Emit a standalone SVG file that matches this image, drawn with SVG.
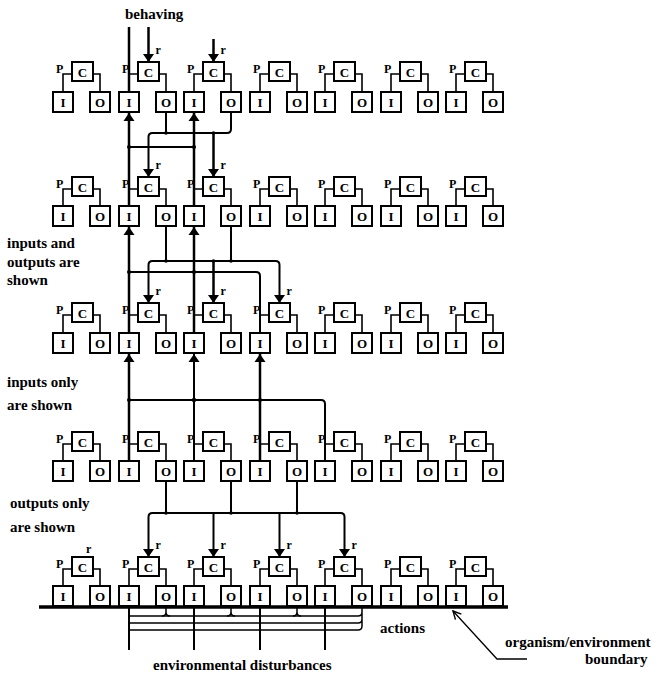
<svg xmlns="http://www.w3.org/2000/svg" width="657" height="674" viewBox="0 0 657 674">
<style>
.bx{fill:#fff;stroke:#000;stroke-width:2}
.t{font-family:"Liberation Serif",serif;font-weight:bold;font-size:13px;text-anchor:middle}
.p{font-family:"Liberation Serif",serif;font-weight:bold;font-size:12px}
.r{font-family:"Liberation Serif",serif;font-weight:bold;font-size:12px}
.lab{font-family:"Liberation Serif",serif;font-weight:bold;font-size:15px}
.w{fill:none;stroke:#000;stroke-width:1.6}
.k{fill:none;stroke:#000;stroke-width:2.5}
.m{fill:none;stroke:#000;stroke-width:2}
.n{fill:none;stroke:#000;stroke-width:1.5}
.d{fill:#000}
</style>
<defs>
<marker id="ah" markerUnits="userSpaceOnUse" markerWidth="9" markerHeight="12" refX="8" refY="6" orient="auto"><path d="M0,0.5 L8,6 L0,11.5 z" fill="#000"/></marker>
<marker id="oa" markerUnits="userSpaceOnUse" markerWidth="10" markerHeight="10" refX="9" refY="5" orient="auto"><path d="M1,1 L9,5 L1,9" fill="none" stroke="#000" stroke-width="1.4"/></marker>
</defs>
<rect width="657" height="674" fill="#fff"/>

<g id="connectors">
<!-- top -->
<path class="k" d="M129,27V92"/>
<path class="k" d="M148.5,27V62" marker-end="url(#ah)"/>
<path class="k" d="M213.5,39V62" marker-end="url(#ah)"/>
<!-- row1-row2 -->
<path class="k" d="M129,206V113" marker-end="url(#ah)"/>
<path class="k" d="M194,206V113" marker-end="url(#ah)"/>
<path class="m" d="M129,147H194"/>
<circle class="d" cx="129" cy="147" r="2"/><circle class="d" cx="194" cy="147" r="2"/>
<path class="m" d="M166,112V133"/>
<path class="m" d="M231,112V129Q231,133 227,133H152.5Q148.5,133 148.5,137V177" marker-end="url(#ah)"/>
<path class="k" d="M213.5,133V177" marker-end="url(#ah)"/>
<circle class="d" cx="166" cy="133" r="1.8"/><circle class="d" cx="213.5" cy="133" r="1.8"/>
<!-- row2-row3 -->
<path class="k" d="M129,333V227" marker-end="url(#ah)"/>
<path class="k" d="M194,333V227" marker-end="url(#ah)"/>
<path class="m" d="M260,333V276Q260,272 256,272H129"/>
<circle class="d" cx="129" cy="272" r="2"/><circle class="d" cx="194" cy="272" r="2"/>
<path class="m" d="M166,226V261"/>
<path class="m" d="M231,226V261"/>
<path class="m" d="M166,261H152.5Q148.5,261 148.5,265V303" marker-end="url(#ah)"/>
<path class="m" d="M166,261H275.5Q279.5,261 279.5,265V303" marker-end="url(#ah)"/>
<path class="k" d="M213.5,261V303" marker-end="url(#ah)"/>
<circle class="d" cx="166" cy="261" r="1.8"/><circle class="d" cx="231" cy="261" r="1.8"/><circle class="d" cx="213.5" cy="261" r="1.8"/>
<!-- row3-row4 -->
<path class="k" d="M129,461V354" marker-end="url(#ah)"/>
<path class="m" d="M194,461V354" marker-end="url(#ah)"/>
<path class="k" d="M260,461V354" marker-end="url(#ah)"/>
<path class="m" d="M325,461V404Q325,400 321,400H129"/>
<circle class="d" cx="129" cy="400" r="2"/><circle class="d" cx="194" cy="400" r="2.2"/><circle class="d" cx="260" cy="400" r="2"/>
<!-- row4-row5 -->
<path class="m" d="M166,481V513"/>
<path class="m" d="M231,481V513"/>
<path class="m" d="M297,481V513"/>
<path class="m" d="M231,513H152.5Q148.5,513 148.5,517V557" marker-end="url(#ah)"/>
<path class="m" d="M231,513H340.5Q344.5,513 344.5,517V557" marker-end="url(#ah)"/>
<path class="m" d="M213.5,513V557" marker-end="url(#ah)"/>
<path class="m" d="M279.5,513V557" marker-end="url(#ah)"/>
<circle class="d" cx="166" cy="513" r="1.8"/><circle class="d" cx="231" cy="513" r="1.8"/><circle class="d" cx="297" cy="513" r="1.8"/>
<!-- boundary and environment -->
<path fill="none" stroke="#000" stroke-width="3.5" d="M39,607H508"/>
<path class="m" d="M129,608V650M194,608V650M260,608V650M325,608V650"/>
<path class="n" d="M166,607V612Q166,616 162,616M166,612Q166,616 170,616M231,607V612Q231,616 227,616M231,612Q231,616 235,616M297,607V612Q297,616 293,616M297,612Q297,616 301,616"/>
<path class="n" d="M129,616H358M129,623H358M129,630H358"/>
<path class="n" d="M362,607V612Q362,616 358,616M362,612V619Q362,623 358,623M362,619V626Q362,630 358,630"/>
<path fill="none" stroke="#000" stroke-width="1.3" d="M527,659H497L453,611" marker-end="url(#oa)"/>
</g>

<g id="labels">
<text class="lab" x="125" y="19">behaving</text>
<text class="lab" x="7" y="248">inputs and</text>
<text class="lab" x="7" y="267">outputs are</text>
<text class="lab" x="7" y="285">shown</text>
<text class="lab" x="7" y="387">inputs only</text>
<text class="lab" x="7" y="410">are shown</text>
<text class="lab" x="10" y="508">outputs only</text>
<text class="lab" x="10" y="532">are shown</text>
<text class="lab" x="380" y="633">actions</text>
<text class="lab" x="153" y="670">environmental disturbances</text>
<text class="lab" x="505" y="647">organism/environment</text>
<text class="lab" x="585" y="664">boundary</text>
<text class="r" x="155.5" y="54">r</text><text class="r" x="220.5" y="54">r</text>
<text class="r" x="155.5" y="169">r</text><text class="r" x="220.5" y="169">r</text>
<text class="r" x="155.5" y="295">r</text><text class="r" x="220.5" y="295">r</text><text class="r" x="286.5" y="295">r</text>
<text class="r" x="86" y="553">r</text><text class="r" x="155.5" y="549">r</text><text class="r" x="220.5" y="549">r</text><text class="r" x="286.5" y="549">r</text><text class="r" x="351.5" y="549">r</text>
</g>

<!-- Row 1 -->
<g id="r1u1"><path class="w" d="M72,74H63V92M93,74H100V92"/><text class="p" x="56" y="73">P</text><g id="r1u1-C"><rect class="bx" x="72" y="62" width="21" height="19"/><text class="t" x="82.5" y="76.5">C</text></g><g id="r1u1-I"><rect class="bx" x="53" y="92" width="20" height="20"/><text class="t" x="63" y="107">I</text></g><g id="r1u1-O"><rect class="bx" x="90" y="92" width="20" height="20"/><text class="t" x="100" y="107">O</text></g></g>
<g id="r1u2"><path class="w" d="M138,74H129V92M159,74H166V92"/><text class="p" x="122" y="73">P</text><g id="r1u2-C"><rect class="bx" x="138" y="62" width="21" height="19"/><text class="t" x="148.5" y="76.5">C</text></g><g id="r1u2-I"><rect class="bx" x="119" y="92" width="20" height="20"/><text class="t" x="129" y="107">I</text></g><g id="r1u2-O"><rect class="bx" x="156" y="92" width="20" height="20"/><text class="t" x="166" y="107">O</text></g></g>
<g id="r1u3"><path class="w" d="M203,74H194V92M224,74H231V92"/><text class="p" x="187" y="73">P</text><g id="r1u3-C"><rect class="bx" x="203" y="62" width="21" height="19"/><text class="t" x="213.5" y="76.5">C</text></g><g id="r1u3-I"><rect class="bx" x="184" y="92" width="20" height="20"/><text class="t" x="194" y="107">I</text></g><g id="r1u3-O"><rect class="bx" x="221" y="92" width="20" height="20"/><text class="t" x="231" y="107">O</text></g></g>
<g id="r1u4"><path class="w" d="M269,74H260V92M290,74H297V92"/><text class="p" x="253" y="73">P</text><g id="r1u4-C"><rect class="bx" x="269" y="62" width="21" height="19"/><text class="t" x="279.5" y="76.5">C</text></g><g id="r1u4-I"><rect class="bx" x="250" y="92" width="20" height="20"/><text class="t" x="260" y="107">I</text></g><g id="r1u4-O"><rect class="bx" x="287" y="92" width="20" height="20"/><text class="t" x="297" y="107">O</text></g></g>
<g id="r1u5"><path class="w" d="M334,74H325V92M355,74H362V92"/><text class="p" x="318" y="73">P</text><g id="r1u5-C"><rect class="bx" x="334" y="62" width="21" height="19"/><text class="t" x="344.5" y="76.5">C</text></g><g id="r1u5-I"><rect class="bx" x="315" y="92" width="20" height="20"/><text class="t" x="325" y="107">I</text></g><g id="r1u5-O"><rect class="bx" x="352" y="92" width="20" height="20"/><text class="t" x="362" y="107">O</text></g></g>
<g id="r1u6"><path class="w" d="M400,74H391V92M421,74H428V92"/><text class="p" x="384" y="73">P</text><g id="r1u6-C"><rect class="bx" x="400" y="62" width="21" height="19"/><text class="t" x="410.5" y="76.5">C</text></g><g id="r1u6-I"><rect class="bx" x="381" y="92" width="20" height="20"/><text class="t" x="391" y="107">I</text></g><g id="r1u6-O"><rect class="bx" x="418" y="92" width="20" height="20"/><text class="t" x="428" y="107">O</text></g></g>
<g id="r1u7"><path class="w" d="M465,74H456V92M486,74H493V92"/><text class="p" x="449" y="73">P</text><g id="r1u7-C"><rect class="bx" x="465" y="62" width="21" height="19"/><text class="t" x="475.5" y="76.5">C</text></g><g id="r1u7-I"><rect class="bx" x="446" y="92" width="20" height="20"/><text class="t" x="456" y="107">I</text></g><g id="r1u7-O"><rect class="bx" x="483" y="92" width="20" height="20"/><text class="t" x="493" y="107">O</text></g></g>

<!-- Row 2 -->
<g id="r2u1"><path class="w" d="M72,189H63V206M93,189H100V206"/><text class="p" x="56" y="188">P</text><g id="r2u1-C"><rect class="bx" x="72" y="177" width="21" height="19"/><text class="t" x="82.5" y="191.5">C</text></g><g id="r2u1-I"><rect class="bx" x="53" y="206" width="20" height="20"/><text class="t" x="63" y="221">I</text></g><g id="r2u1-O"><rect class="bx" x="90" y="206" width="20" height="20"/><text class="t" x="100" y="221">O</text></g></g>
<g id="r2u2"><path class="w" d="M138,189H129V206M159,189H166V206"/><text class="p" x="122" y="188">P</text><g id="r2u2-C"><rect class="bx" x="138" y="177" width="21" height="19"/><text class="t" x="148.5" y="191.5">C</text></g><g id="r2u2-I"><rect class="bx" x="119" y="206" width="20" height="20"/><text class="t" x="129" y="221">I</text></g><g id="r2u2-O"><rect class="bx" x="156" y="206" width="20" height="20"/><text class="t" x="166" y="221">O</text></g></g>
<g id="r2u3"><path class="w" d="M203,189H194V206M224,189H231V206"/><text class="p" x="187" y="188">P</text><g id="r2u3-C"><rect class="bx" x="203" y="177" width="21" height="19"/><text class="t" x="213.5" y="191.5">C</text></g><g id="r2u3-I"><rect class="bx" x="184" y="206" width="20" height="20"/><text class="t" x="194" y="221">I</text></g><g id="r2u3-O"><rect class="bx" x="221" y="206" width="20" height="20"/><text class="t" x="231" y="221">O</text></g></g>
<g id="r2u4"><path class="w" d="M269,189H260V206M290,189H297V206"/><text class="p" x="253" y="188">P</text><g id="r2u4-C"><rect class="bx" x="269" y="177" width="21" height="19"/><text class="t" x="279.5" y="191.5">C</text></g><g id="r2u4-I"><rect class="bx" x="250" y="206" width="20" height="20"/><text class="t" x="260" y="221">I</text></g><g id="r2u4-O"><rect class="bx" x="287" y="206" width="20" height="20"/><text class="t" x="297" y="221">O</text></g></g>
<g id="r2u5"><path class="w" d="M334,189H325V206M355,189H362V206"/><text class="p" x="318" y="188">P</text><g id="r2u5-C"><rect class="bx" x="334" y="177" width="21" height="19"/><text class="t" x="344.5" y="191.5">C</text></g><g id="r2u5-I"><rect class="bx" x="315" y="206" width="20" height="20"/><text class="t" x="325" y="221">I</text></g><g id="r2u5-O"><rect class="bx" x="352" y="206" width="20" height="20"/><text class="t" x="362" y="221">O</text></g></g>
<g id="r2u6"><path class="w" d="M400,189H391V206M421,189H428V206"/><text class="p" x="384" y="188">P</text><g id="r2u6-C"><rect class="bx" x="400" y="177" width="21" height="19"/><text class="t" x="410.5" y="191.5">C</text></g><g id="r2u6-I"><rect class="bx" x="381" y="206" width="20" height="20"/><text class="t" x="391" y="221">I</text></g><g id="r2u6-O"><rect class="bx" x="418" y="206" width="20" height="20"/><text class="t" x="428" y="221">O</text></g></g>
<g id="r2u7"><path class="w" d="M465,189H456V206M486,189H493V206"/><text class="p" x="449" y="188">P</text><g id="r2u7-C"><rect class="bx" x="465" y="177" width="21" height="19"/><text class="t" x="475.5" y="191.5">C</text></g><g id="r2u7-I"><rect class="bx" x="446" y="206" width="20" height="20"/><text class="t" x="456" y="221">I</text></g><g id="r2u7-O"><rect class="bx" x="483" y="206" width="20" height="20"/><text class="t" x="493" y="221">O</text></g></g>

<!-- Row 3 -->
<g id="r3u1"><path class="w" d="M72,315H63V333M93,315H100V333"/><text class="p" x="56" y="314">P</text><g id="r3u1-C"><rect class="bx" x="72" y="303" width="21" height="19"/><text class="t" x="82.5" y="317.5">C</text></g><g id="r3u1-I"><rect class="bx" x="53" y="333" width="20" height="20"/><text class="t" x="63" y="348">I</text></g><g id="r3u1-O"><rect class="bx" x="90" y="333" width="20" height="20"/><text class="t" x="100" y="348">O</text></g></g>
<g id="r3u2"><path class="w" d="M138,315H129V333M159,315H166V333"/><text class="p" x="122" y="314">P</text><g id="r3u2-C"><rect class="bx" x="138" y="303" width="21" height="19"/><text class="t" x="148.5" y="317.5">C</text></g><g id="r3u2-I"><rect class="bx" x="119" y="333" width="20" height="20"/><text class="t" x="129" y="348">I</text></g><g id="r3u2-O"><rect class="bx" x="156" y="333" width="20" height="20"/><text class="t" x="166" y="348">O</text></g></g>
<g id="r3u3"><path class="w" d="M203,315H194V333M224,315H231V333"/><text class="p" x="187" y="314">P</text><g id="r3u3-C"><rect class="bx" x="203" y="303" width="21" height="19"/><text class="t" x="213.5" y="317.5">C</text></g><g id="r3u3-I"><rect class="bx" x="184" y="333" width="20" height="20"/><text class="t" x="194" y="348">I</text></g><g id="r3u3-O"><rect class="bx" x="221" y="333" width="20" height="20"/><text class="t" x="231" y="348">O</text></g></g>
<g id="r3u4"><path class="w" d="M269,315H260V333M290,315H297V333"/><text class="p" x="253" y="314">P</text><g id="r3u4-C"><rect class="bx" x="269" y="303" width="21" height="19"/><text class="t" x="279.5" y="317.5">C</text></g><g id="r3u4-I"><rect class="bx" x="250" y="333" width="20" height="20"/><text class="t" x="260" y="348">I</text></g><g id="r3u4-O"><rect class="bx" x="287" y="333" width="20" height="20"/><text class="t" x="297" y="348">O</text></g></g>
<g id="r3u5"><path class="w" d="M334,315H325V333M355,315H362V333"/><text class="p" x="318" y="314">P</text><g id="r3u5-C"><rect class="bx" x="334" y="303" width="21" height="19"/><text class="t" x="344.5" y="317.5">C</text></g><g id="r3u5-I"><rect class="bx" x="315" y="333" width="20" height="20"/><text class="t" x="325" y="348">I</text></g><g id="r3u5-O"><rect class="bx" x="352" y="333" width="20" height="20"/><text class="t" x="362" y="348">O</text></g></g>
<g id="r3u6"><path class="w" d="M400,315H391V333M421,315H428V333"/><text class="p" x="384" y="314">P</text><g id="r3u6-C"><rect class="bx" x="400" y="303" width="21" height="19"/><text class="t" x="410.5" y="317.5">C</text></g><g id="r3u6-I"><rect class="bx" x="381" y="333" width="20" height="20"/><text class="t" x="391" y="348">I</text></g><g id="r3u6-O"><rect class="bx" x="418" y="333" width="20" height="20"/><text class="t" x="428" y="348">O</text></g></g>
<g id="r3u7"><path class="w" d="M465,315H456V333M486,315H493V333"/><text class="p" x="449" y="314">P</text><g id="r3u7-C"><rect class="bx" x="465" y="303" width="21" height="19"/><text class="t" x="475.5" y="317.5">C</text></g><g id="r3u7-I"><rect class="bx" x="446" y="333" width="20" height="20"/><text class="t" x="456" y="348">I</text></g><g id="r3u7-O"><rect class="bx" x="483" y="333" width="20" height="20"/><text class="t" x="493" y="348">O</text></g></g>

<!-- Row 4 -->
<g id="r4u1"><path class="w" d="M72,444H63V461M93,444H100V461"/><text class="p" x="56" y="443">P</text><g id="r4u1-C"><rect class="bx" x="72" y="432" width="21" height="19"/><text class="t" x="82.5" y="446.5">C</text></g><g id="r4u1-I"><rect class="bx" x="53" y="461" width="20" height="20"/><text class="t" x="63" y="476">I</text></g><g id="r4u1-O"><rect class="bx" x="90" y="461" width="20" height="20"/><text class="t" x="100" y="476">O</text></g></g>
<g id="r4u2"><path class="w" d="M138,444H129V461M159,444H166V461"/><text class="p" x="122" y="443">P</text><g id="r4u2-C"><rect class="bx" x="138" y="432" width="21" height="19"/><text class="t" x="148.5" y="446.5">C</text></g><g id="r4u2-I"><rect class="bx" x="119" y="461" width="20" height="20"/><text class="t" x="129" y="476">I</text></g><g id="r4u2-O"><rect class="bx" x="156" y="461" width="20" height="20"/><text class="t" x="166" y="476">O</text></g></g>
<g id="r4u3"><path class="w" d="M203,444H194V461M224,444H231V461"/><text class="p" x="187" y="443">P</text><g id="r4u3-C"><rect class="bx" x="203" y="432" width="21" height="19"/><text class="t" x="213.5" y="446.5">C</text></g><g id="r4u3-I"><rect class="bx" x="184" y="461" width="20" height="20"/><text class="t" x="194" y="476">I</text></g><g id="r4u3-O"><rect class="bx" x="221" y="461" width="20" height="20"/><text class="t" x="231" y="476">O</text></g></g>
<g id="r4u4"><path class="w" d="M269,444H260V461M290,444H297V461"/><text class="p" x="253" y="443">P</text><g id="r4u4-C"><rect class="bx" x="269" y="432" width="21" height="19"/><text class="t" x="279.5" y="446.5">C</text></g><g id="r4u4-I"><rect class="bx" x="250" y="461" width="20" height="20"/><text class="t" x="260" y="476">I</text></g><g id="r4u4-O"><rect class="bx" x="287" y="461" width="20" height="20"/><text class="t" x="297" y="476">O</text></g></g>
<g id="r4u5"><path class="w" d="M334,444H325V461M355,444H362V461"/><text class="p" x="318" y="443">P</text><g id="r4u5-C"><rect class="bx" x="334" y="432" width="21" height="19"/><text class="t" x="344.5" y="446.5">C</text></g><g id="r4u5-I"><rect class="bx" x="315" y="461" width="20" height="20"/><text class="t" x="325" y="476">I</text></g><g id="r4u5-O"><rect class="bx" x="352" y="461" width="20" height="20"/><text class="t" x="362" y="476">O</text></g></g>
<g id="r4u6"><path class="w" d="M400,444H391V461M421,444H428V461"/><text class="p" x="384" y="443">P</text><g id="r4u6-C"><rect class="bx" x="400" y="432" width="21" height="19"/><text class="t" x="410.5" y="446.5">C</text></g><g id="r4u6-I"><rect class="bx" x="381" y="461" width="20" height="20"/><text class="t" x="391" y="476">I</text></g><g id="r4u6-O"><rect class="bx" x="418" y="461" width="20" height="20"/><text class="t" x="428" y="476">O</text></g></g>
<g id="r4u7"><path class="w" d="M465,444H456V461M486,444H493V461"/><text class="p" x="449" y="443">P</text><g id="r4u7-C"><rect class="bx" x="465" y="432" width="21" height="19"/><text class="t" x="475.5" y="446.5">C</text></g><g id="r4u7-I"><rect class="bx" x="446" y="461" width="20" height="20"/><text class="t" x="456" y="476">I</text></g><g id="r4u7-O"><rect class="bx" x="483" y="461" width="20" height="20"/><text class="t" x="493" y="476">O</text></g></g>

<!-- Row 5 -->
<g id="r5u1"><path class="w" d="M72,569H63V586M93,569H100V586"/><text class="p" x="56" y="568">P</text><g id="r5u1-C"><rect class="bx" x="72" y="557" width="21" height="19"/><text class="t" x="82.5" y="571.5">C</text></g><g id="r5u1-I"><rect class="bx" x="53" y="586" width="20" height="20"/><text class="t" x="63" y="601">I</text></g><g id="r5u1-O"><rect class="bx" x="90" y="586" width="20" height="20"/><text class="t" x="100" y="601">O</text></g></g>
<g id="r5u2"><path class="w" d="M138,569H129V586M159,569H166V586"/><text class="p" x="122" y="568">P</text><g id="r5u2-C"><rect class="bx" x="138" y="557" width="21" height="19"/><text class="t" x="148.5" y="571.5">C</text></g><g id="r5u2-I"><rect class="bx" x="119" y="586" width="20" height="20"/><text class="t" x="129" y="601">I</text></g><g id="r5u2-O"><rect class="bx" x="156" y="586" width="20" height="20"/><text class="t" x="166" y="601">O</text></g></g>
<g id="r5u3"><path class="w" d="M203,569H194V586M224,569H231V586"/><text class="p" x="187" y="568">P</text><g id="r5u3-C"><rect class="bx" x="203" y="557" width="21" height="19"/><text class="t" x="213.5" y="571.5">C</text></g><g id="r5u3-I"><rect class="bx" x="184" y="586" width="20" height="20"/><text class="t" x="194" y="601">I</text></g><g id="r5u3-O"><rect class="bx" x="221" y="586" width="20" height="20"/><text class="t" x="231" y="601">O</text></g></g>
<g id="r5u4"><path class="w" d="M269,569H260V586M290,569H297V586"/><text class="p" x="253" y="568">P</text><g id="r5u4-C"><rect class="bx" x="269" y="557" width="21" height="19"/><text class="t" x="279.5" y="571.5">C</text></g><g id="r5u4-I"><rect class="bx" x="250" y="586" width="20" height="20"/><text class="t" x="260" y="601">I</text></g><g id="r5u4-O"><rect class="bx" x="287" y="586" width="20" height="20"/><text class="t" x="297" y="601">O</text></g></g>
<g id="r5u5"><path class="w" d="M334,569H325V586M355,569H362V586"/><text class="p" x="318" y="568">P</text><g id="r5u5-C"><rect class="bx" x="334" y="557" width="21" height="19"/><text class="t" x="344.5" y="571.5">C</text></g><g id="r5u5-I"><rect class="bx" x="315" y="586" width="20" height="20"/><text class="t" x="325" y="601">I</text></g><g id="r5u5-O"><rect class="bx" x="352" y="586" width="20" height="20"/><text class="t" x="362" y="601">O</text></g></g>
<g id="r5u6"><path class="w" d="M400,569H391V586M421,569H428V586"/><text class="p" x="384" y="568">P</text><g id="r5u6-C"><rect class="bx" x="400" y="557" width="21" height="19"/><text class="t" x="410.5" y="571.5">C</text></g><g id="r5u6-I"><rect class="bx" x="381" y="586" width="20" height="20"/><text class="t" x="391" y="601">I</text></g><g id="r5u6-O"><rect class="bx" x="418" y="586" width="20" height="20"/><text class="t" x="428" y="601">O</text></g></g>
<g id="r5u7"><path class="w" d="M465,569H456V586M486,569H493V586"/><text class="p" x="449" y="568">P</text><g id="r5u7-C"><rect class="bx" x="465" y="557" width="21" height="19"/><text class="t" x="475.5" y="571.5">C</text></g><g id="r5u7-I"><rect class="bx" x="446" y="586" width="20" height="20"/><text class="t" x="456" y="601">I</text></g><g id="r5u7-O"><rect class="bx" x="483" y="586" width="20" height="20"/><text class="t" x="493" y="601">O</text></g></g>
</svg>
